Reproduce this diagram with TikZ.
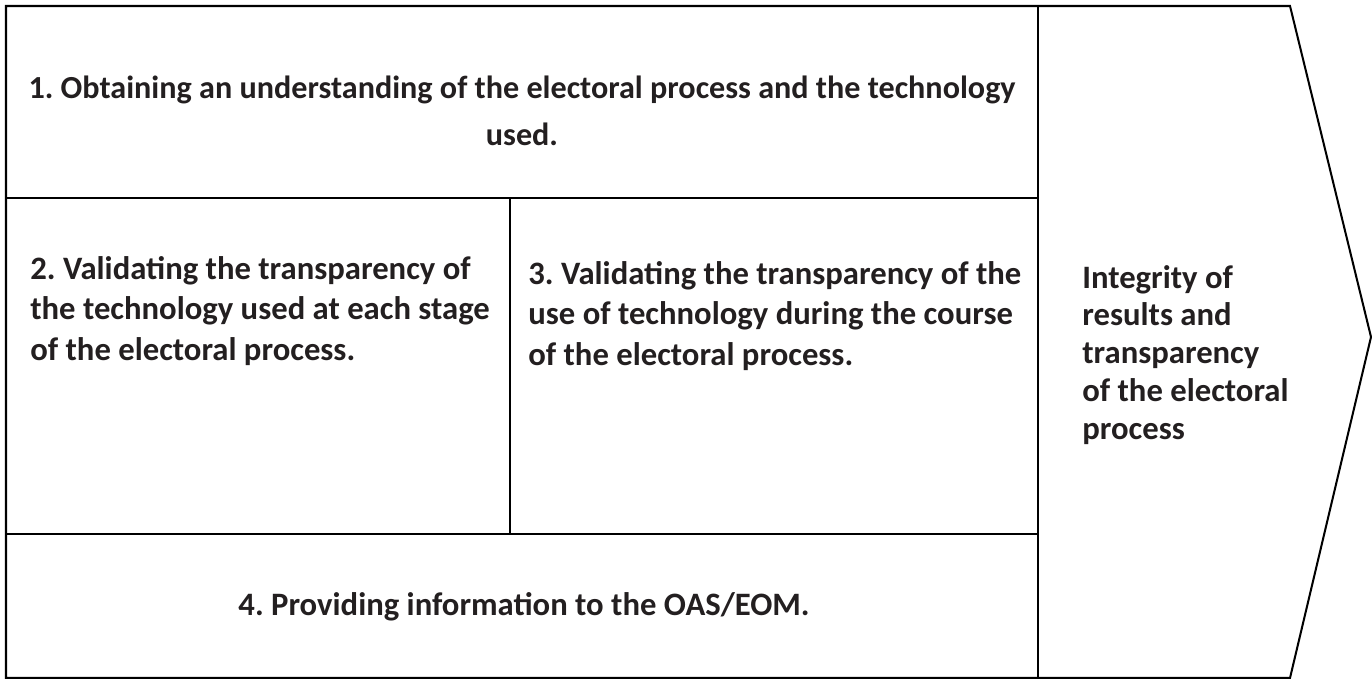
\documentclass[tikz,border=0pt]{standalone}
\usepackage{fontspec}
\setmainfont{Carlito}
\definecolor{ink}{HTML}{231F20}
\frenchspacing
\begin{document}
\begin{tikzpicture}[
  x=0.02cm, y=-0.02cm,
  frame/.style={draw=black, line width=1.15pt, line join=miter},
  txt/.style={
    text=ink, inner sep=0pt,
    font=\bfseries\fontsize{18.6}{23}\selectfont,
  },
  midtxt/.style={txt, align=center},
  lefttxt/.style={txt, align=left, anchor=west},
]
\useasboundingbox (0,0) rectangle (1372,679);

% outline: boxes on the left, pointed block on the right
\coordinate (tl) at (6,6);
\coordinate (tr) at (1290,6);
\coordinate (tip) at (1371,337);
\coordinate (br) at (1290,678);
\coordinate (bl) at (6,678);
\draw[frame] (tl) -- (tr) -- (tip) -- (br) -- (bl) -- cycle;

% grid lines
\coordinate (colT) at (1038,6);
\coordinate (colB) at (1038,678);
\coordinate (rowAL) at (6,198);
\coordinate (rowAR) at (1038,198);
\coordinate (rowBL) at (6,534);
\coordinate (rowBR) at (1038,534);
\coordinate (midT) at (510,198);
\coordinate (midB) at (510,534);
\draw[frame] (colT) -- (colB);
\draw[frame] (rowAL) -- (rowAR);
\draw[frame] (rowBL) -- (rowBR);
\draw[frame] (midT) -- (midB);

% step texts
\node[midtxt, font=\bfseries\fontsize{18.3}{26.6}\selectfont] (understanding) at (522,111)
  {1. Obtaining an understanding of the electoral process and the technology\\used.};
\node[lefttxt] (validtech) at (30,311)
  {2. Validating the transparency of\\the technology used at each stage\\of the electoral process.};
\node[lefttxt] (validuse) at (528,316)
  {3. Validating the transparency of the\\use of technology during the course\\of the electoral process.};
\node[midtxt] (information) at (524,607) {4. Providing information to the OAS/EOM.};

% outcome
\node[lefttxt, font=\bfseries\fontsize{18.6}{21.6}\selectfont] (integrity) at (1082,355)
  {Integrity of\\results and\\transparency\\of the electoral\\process};

\end{tikzpicture}
\end{document}
